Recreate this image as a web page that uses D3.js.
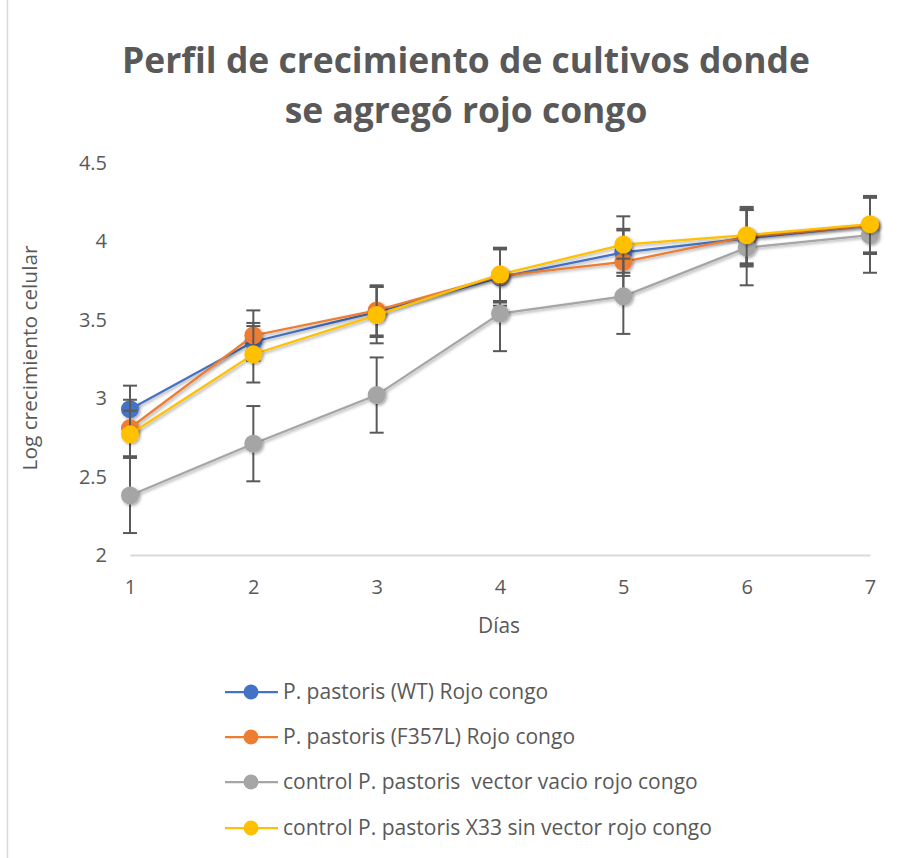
<!DOCTYPE html>
<html><head><meta charset="utf-8">
<script src="https://cdn.jsdelivr.net/npm/d3@7"></script>
<style>body{margin:0;background:#fff}svg{display:block}text{white-space:pre}</style>
</head><body>
<svg id="c" width="913" height="858"></svg>
<script>
const days = [1,2,3,4,5,6,7];
const yTicks = [2,2.5,3,3.5,4,4.5];
const seriesNames = ["P. pastoris (WT) Rojo congo","P. pastoris (F357L) Rojo congo","control P. pastoris  vector vacio rojo congo","control P. pastoris X33 sin vector rojo congo"];
const seriesColors = ["#4472C4","#ED7D31","#A5A5A5","#FFC000"];
const wtVals    = [2.93,3.36,3.55,3.77,3.93,4.02,4.10];
const wtErr     = [0.15,0.12,0.16,0.18,0.15,0.18,0.18];
const f357Vals  = [2.81,3.40,3.56,3.78,3.87,4.03,4.10];
const f357Err   = [0.18,0.16,0.16,0.17,0.20,0.18,0.18];
const vacioVals = [2.38,2.71,3.02,3.54,3.65,3.96,4.04];
const vacioErr  = [0.24,0.24,0.24,0.24,0.24,0.24,0.24];
const x33Vals   = [2.77,3.28,3.53,3.79,3.98,4.04,4.11];
const x33Err    = [0.15,0.18,0.18,0.17,0.18,0.18,0.18];
const allVals = [wtVals,f357Vals,vacioVals,x33Vals];
const allErr = [wtErr,f357Err,vacioErr,x33Err];

const svg = d3.select("#c");
const font = "'Open Sans', sans-serif";
const txt = "#595959";

function fit(sel, target){
  const w = sel.node().getComputedTextLength();
  const fs = parseFloat(sel.attr("font-size"));
  sel.attr("font-size", fs*target/w);
}

const defs = svg.append("defs");
const f = defs.append("filter").attr("id","sh").attr("x","-50%").attr("y","-50%").attr("width","200%").attr("height","200%");
f.append("feDropShadow").attr("dx",1.5).attr("dy",1.5).attr("stdDeviation",1.5).attr("flood-color","#000").attr("flood-opacity",0.35);

svg.append("line").attr("x1",7.5).attr("x2",7.5).attr("y1",0).attr("y2",858).attr("stroke","#d9d9d9").attr("stroke-width",1.5);

const x = d3.scaleLinear().domain([1,7]).range([130,870]);
const y = d3.scaleLinear().domain([2,4.5]).range([555,163]);

// title
const t1 = svg.append("text").attr("x",466).attr("y",73).attr("text-anchor","middle").attr("fill",txt)
  .attr("font-family",font).attr("font-weight","bold").attr("font-size",34).text("Perfil de crecimiento de cultivos donde");
fit(t1, 688);
const t2 = svg.append("text").attr("x",466).attr("y",123).attr("text-anchor","middle").attr("fill",txt)
  .attr("font-family",font).attr("font-weight","bold").attr("font-size",t1.attr("font-size")).text("se agregó rojo congo");

// x axis
const xAxis = d3.axisBottom(x).tickValues(days).tickSize(0).tickPadding(25).tickFormat(d3.format("d"));
const gx = svg.append("g").attr("transform","translate(0,555)").call(xAxis);
gx.select(".domain").attr("stroke","#d9d9d9").attr("stroke-width",2);
gx.selectAll("text").attr("font-family",font).attr("font-size",20).attr("fill",txt);

const yAxis = d3.axisLeft(y).tickValues(yTicks).tickSize(0).tickPadding(0).tickFormat(d => d3.format("")(d));
const gy = svg.append("g").attr("transform","translate(107,0)").call(yAxis);
gy.select(".domain").remove();
gy.selectAll("text").attr("font-family",font).attr("font-size",20).attr("fill",txt);

const xt = svg.append("text").attr("x",499).attr("y",633).attr("text-anchor","middle").attr("font-family",font)
  .attr("font-size",17).attr("fill",txt).text("Días");
fit(xt, 42);
const yt = svg.append("text").attr("transform","translate(37,358) rotate(-90)").attr("text-anchor","middle")
  .attr("font-family",font).attr("font-size",17).attr("fill",txt).text("Log crecimiento celular");
fit(yt, 225);

const line = d3.line().x((d,i)=>x(days[i])).y(d=>y(d));

allVals.forEach((vals,s)=>{
  const g = svg.append("g");
  const eb = g.append("g");
  vals.forEach((v,i)=>{
    const e = allErr[s][i], cx = x(days[i]);
    eb.append("line").attr("x1",cx).attr("x2",cx).attr("y1",y(v+e)).attr("y2",y(v-e)).attr("stroke","#595959").attr("stroke-width",2);
    [v+e,v-e].forEach(t=>eb.append("line").attr("x1",cx-7).attr("x2",cx+7).attr("y1",y(t)).attr("y2",y(t)).attr("stroke","#595959").attr("stroke-width",2));
  });
  g.append("path").datum(vals).attr("d",line).attr("fill","none").attr("stroke",seriesColors[s]).attr("stroke-width",2.25).attr("filter","url(#sh)");
  g.selectAll("circle").data(vals).enter().append("circle")
    .attr("cx",(d,i)=>x(days[i])).attr("cy",d=>y(d)).attr("r",9)
    .attr("fill",seriesColors[s]).attr("filter","url(#sh)");
});

// legend
const legY = [692,737,782,828];
let legSize = null;
seriesNames.forEach((n,s)=>{
  const g = svg.append("g").attr("transform",`translate(0,${legY[s]})`);
  g.append("line").attr("x1",225).attr("x2",278).attr("y1",0).attr("y2",0).attr("stroke",seriesColors[s]).attr("stroke-width",2.25);
  g.append("circle").attr("cx",251).attr("cy",0).attr("r",7.5).attr("fill",seriesColors[s]);
  const t = g.append("text").attr("x",283).attr("y",7).attr("font-family",font).attr("font-size",19).attr("fill",txt).text(n);
  if (s===3) { fit(t, 429); legSize = t.attr("font-size"); }
});
svg.selectAll("g text").filter(function(){return this.getAttribute("x")==="283";}).attr("font-size",legSize);
</script>
</body></html>
